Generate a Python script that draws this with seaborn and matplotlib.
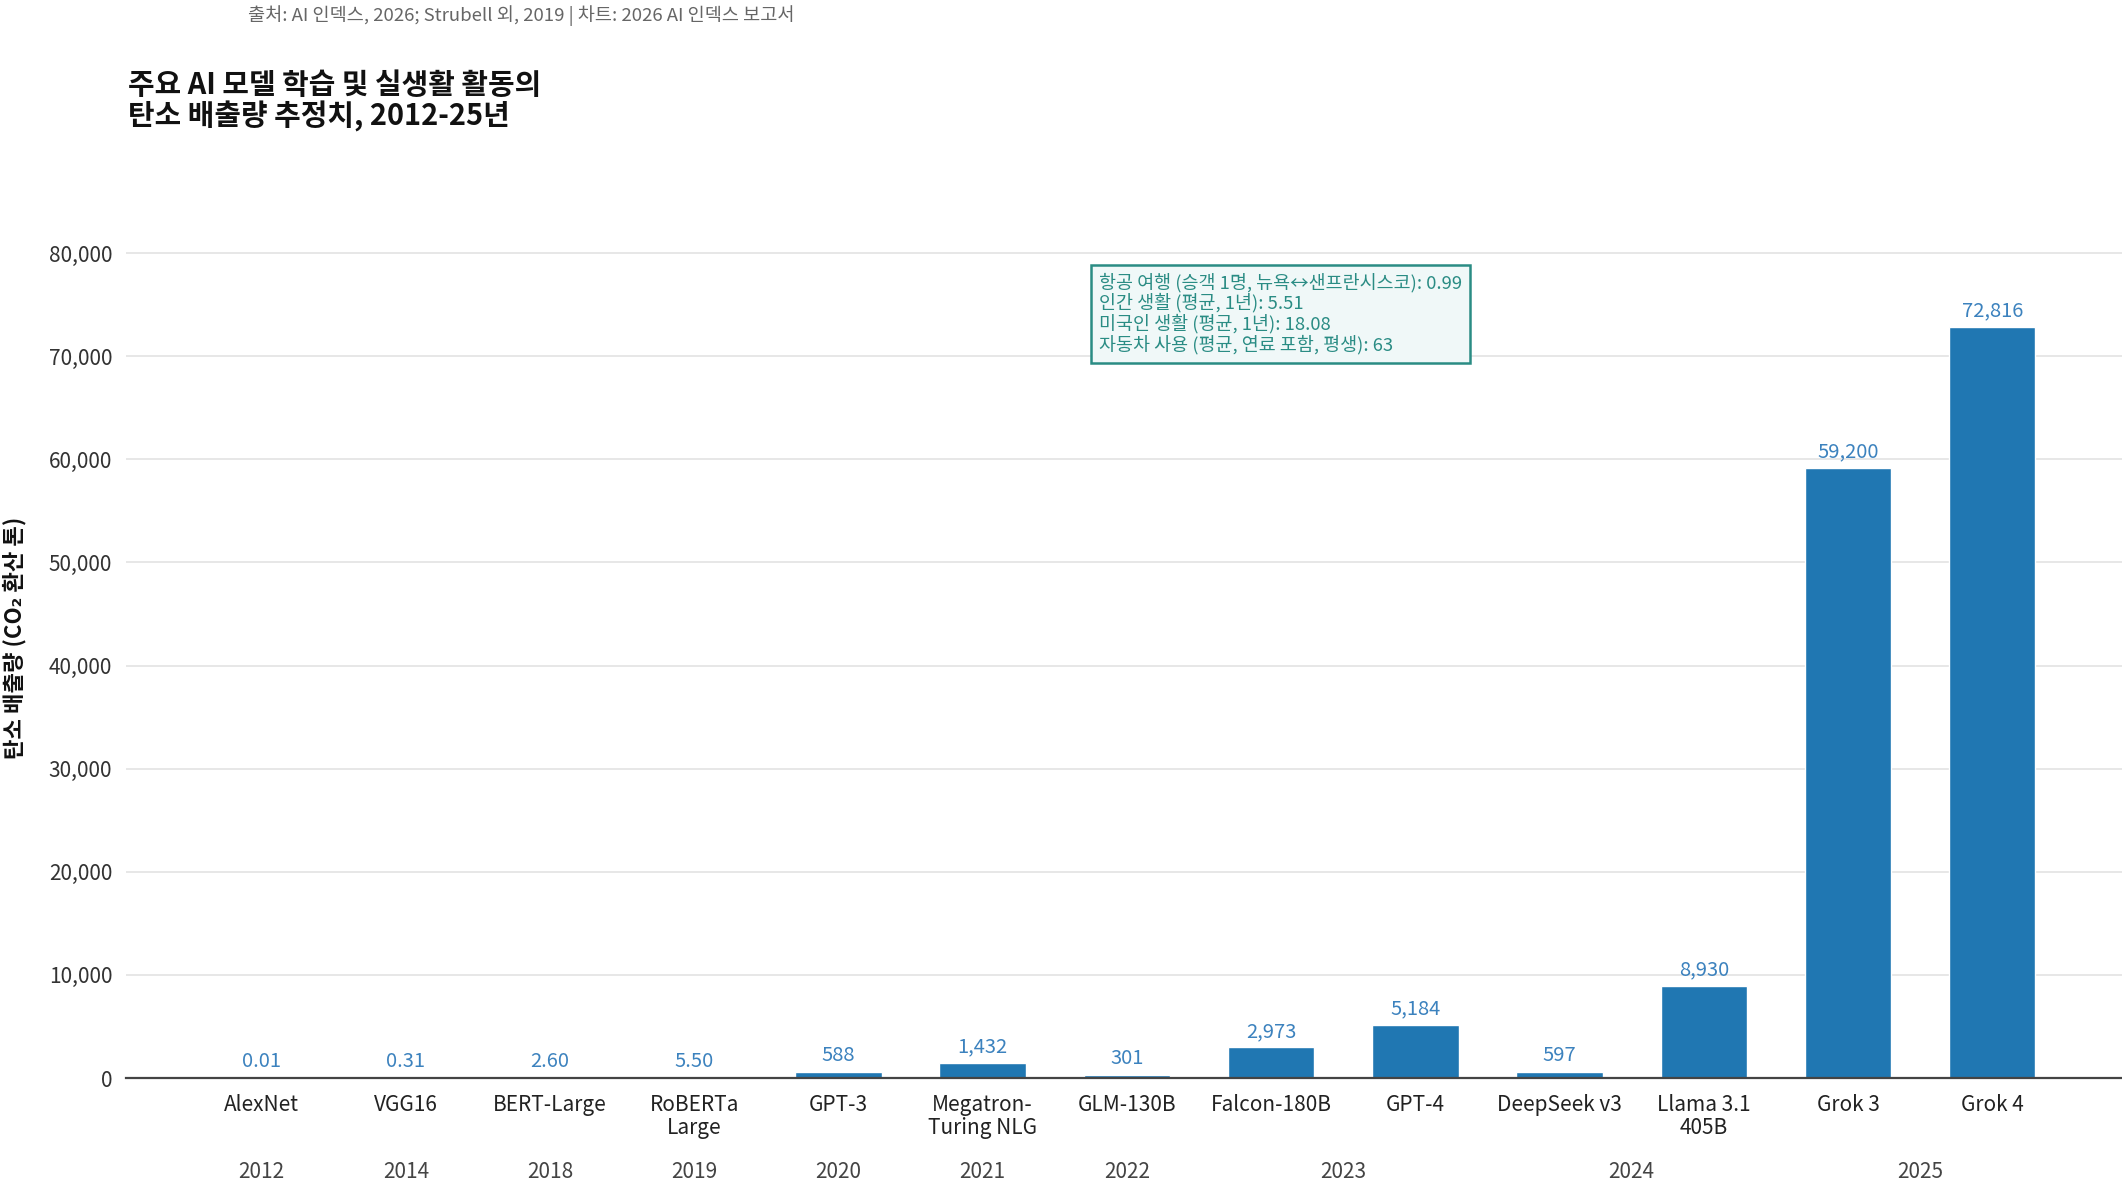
import matplotlib
matplotlib.use("Agg")
import matplotlib.pyplot as plt
import seaborn as sns
import pandas as pd

models = ["AlexNet", "VGG16", "BERT-Large", "RoBERTa\nLarge", "GPT-3", "Megatron-\nTuring NLG",
          "GLM-130B", "Falcon-180B", "GPT-4", "DeepSeek v3", "Llama 3.1\n405B", "Grok 3", "Grok 4"]
years = [2012, 2014, 2018, 2019, 2020, 2021, 2022, 2023, 2023, 2024, 2024, 2025, 2025]
emissions = [0.01, 0.31, 2.60, 5.50, 588, 1432, 301, 2973, 5184, 597, 8930, 59200, 72816]

reference_lines = [
    "항공 여행 (승객 1명, 뉴욕↔샌프란시스코): 0.99",
    "인간 생활 (평균, 1년): 5.51",
    "미국인 생활 (평균, 1년): 18.08",
    "자동차 사용 (평균, 연료 포함, 평생): 63",
]

title = "주요 AI 모델 학습 및 실생활 활동의\n탄소 배출량 추정치, 2012-25년"
source = "출처: AI 인덱스, 2026; Strubell 외, 2019 | 차트: 2026 AI 인덱스 보고서"
ylabel = "탄소 배출량 (CO₂ 환산 톤)"

sns.set_style("white")
plt.rcParams["font.family"] = ["Noto Sans CJK KR", "DejaVu Sans"]

BAR = "#2077b2"
LABEL = "#3c82be"
TEAL = "#2a8c84"

df = pd.DataFrame({"model": models, "year": years, "emissions": emissions})

fig = plt.figure(figsize=(21.22, 11.87), dpi=100)
ax = fig.add_axes([0.0594, 0.0918, 0.9406, 0.7037])

sns.barplot(data=df, x="model", y="emissions", color=BAR, width=0.6,
            saturation=1, ax=ax, zorder=3)

ax.set_xlim(-0.94, 12.9)
ax.set_ylim(0, 81000)
ax.set_yticks(range(0, 80001, 10000))
ax.set_yticklabels([f"{t:,}" for t in range(0, 80001, 10000)])
ax.yaxis.grid(True, color="#e3e3e3", linewidth=1.2, zorder=0)
ax.xaxis.grid(False)
for s in ["left", "right", "top"]:
    ax.spines[s].set_visible(False)
ax.spines["bottom"].set_color("#444444")
ax.spines["bottom"].set_linewidth(1.6)
ax.spines["bottom"].set_zorder(4)

ax.tick_params(axis="y", length=0, pad=10, labelsize=15, labelcolor="#333333")
ax.tick_params(axis="x", length=0, pad=11.5, labelsize=15, labelcolor="#222222")
for lab in ax.get_xticklabels():
    lab.set_linespacing(1.05)

ax.set_xlabel("")
ax.set_ylabel(ylabel, fontsize=16, fontweight="bold", labelpad=14, color="#111111")
ax.yaxis.set_label_coords(-0.05, 0.527)

# value labels
for i, v in enumerate(emissions):
    txt = f"{v:.2f}" if v < 100 else f"{v:,.0f}"
    ax.annotate(txt, xy=(i, v), xytext=(0, 4), textcoords="offset points",
                ha="center", va="bottom", fontsize=14.5, color=LABEL)

# year row under model labels
for yr, grp in df.reset_index().groupby("year"):
    ax.text(grp["index"].mean(), -0.112, str(yr), transform=ax.get_xaxis_transform(),
            ha="center", va="center", fontsize=15, color="#444444")

# comparison box
ax.text(0.518, 0.7705, "\n".join(reference_lines), transform=fig.transFigure,
        ha="left", va="top", fontsize=13.3, color=TEAL, linespacing=1.08,
        bbox=dict(boxstyle="square,pad=0.42", facecolor="#f0f8f8", edgecolor=TEAL, linewidth=1.8),
        zorder=5)

fig.text(0.0604, 0.9414, title, ha="left", va="top", fontsize=20.8, fontweight="bold",
         color="#111111", linespacing=1.05)
fig.text(0.117, 0.987, source, ha="left", va="center", fontsize=13.4, color="#666666")

fig.savefig("out.png", dpi=100)
plt.close(fig)
